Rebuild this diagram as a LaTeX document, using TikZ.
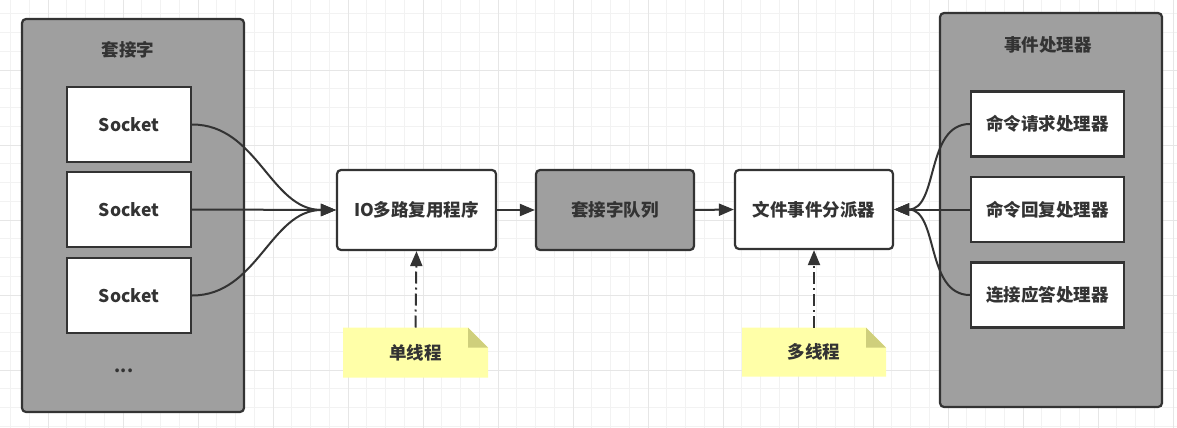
\documentclass[tikz,border=0pt]{standalone}
\usepackage{fontspec}
\setmainfont{Noto Sans CJK SC}
\usetikzlibrary{arrows.meta}
\definecolor{ink}{HTML}{333333}
\definecolor{groupfill}{HTML}{9F9F9F}
\definecolor{minorgrid}{HTML}{F2F2F2}
\definecolor{majorgrid}{HTML}{E6E6E6}
\definecolor{notefill}{HTML}{FFFFA8}
\definecolor{foldfill}{HTML}{CFCF7C}
\tikzset{
  every node/.style={font=\fontsize{17.5}{20}\selectfont\bfseries, text=ink},
  group/.style={draw=ink, line width=2.2pt, fill=groupfill, rounded corners=4pt, inner sep=0pt},
  whitebox/.style={draw=ink, line width=2.2pt, fill=white, inner sep=0pt},
  roundbox/.style={whitebox, rounded corners=4pt},
  graybox/.style={draw=ink, line width=2.2pt, fill=groupfill, rounded corners=4pt, inner sep=0pt},
  arr/.style={draw=ink, line width=2pt, -{Triangle[length=15pt,width=12pt]}},
  dashdot/.style={dash pattern=on 12pt off 4pt on 2pt off 4pt},
  note/.style={inner sep=0pt, minimum width=145pt, minimum height=50pt,
    path picture={
      \fill[notefill] (path picture bounding box.north west)
        -- ([xshift=-20pt]path picture bounding box.north east)
        -- ([yshift=-20pt]path picture bounding box.north east)
        |- (path picture bounding box.south west) -- cycle;
      \fill[foldfill] ([xshift=-20pt]path picture bounding box.north east)
        |- ([yshift=-20pt]path picture bounding box.north east) -- cycle;
    }},
}
\begin{document}
\begin{tikzpicture}[x=1pt,y=-1pt]
\fill[white] (0,0) rectangle (1177,428);
\useasboundingbox (0,0) rectangle (1177,428);
% grid
\foreach \i in {0,...,62} {
  \draw[minorgrid, line width=1pt] ({10.5+18.75*\i},0) -- ({10.5+18.75*\i},428);
}
\foreach \i in {0,...,22} {
  \draw[minorgrid, line width=1pt] (0,{13.75+18.75*\i}) -- (1177,{13.75+18.75*\i});
}
\foreach \i in {0,...,15} {
  \draw[majorgrid, line width=1pt] ({48+75*\i},0) -- ({48+75*\i},428);
}
\foreach \i in {0,...,5} {
  \draw[majorgrid, line width=1pt] (0,{-5+75*\i}) -- (1177,{-5+75*\i});
}
% left group
\node[group, minimum width=222pt, minimum height=393pt] (sockgroup) at (133,215.5) {};
\node (socktitle) at (128,50) {套接字};
\node[whitebox, minimum width=124pt, minimum height=75pt] (s1) at (129,124.5) {Socket};
\node[whitebox, minimum width=124pt, minimum height=75pt] (s2) at (129,209.5) {Socket};
\node[whitebox, minimum width=124pt, minimum height=75pt] (s3) at (129,295.5) {Socket};
\node (dots) at (124,371) {...};
% middle
\node[roundbox, minimum width=159pt, minimum height=80pt] (io) at (416.5,210) {IO多路复用程序};
\node[graybox, minimum width=158pt, minimum height=80pt] (queue) at (615,210) {套接字队列};
\node[roundbox, minimum width=158pt, minimum height=79pt] (disp) at (814,209.5) {文件事件分派器};
\node[note] (single) at (415.5,352.7) {单线程};
\node[note, minimum width=144pt, minimum height=49pt] (multi) at (814,352.2) {多线程};
% right group
\node[group, minimum width=222pt, minimum height=394pt] (handgroup) at (1051,210) {};
\node (handtitle) at (1048,45) {事件处理器};
\node[whitebox, minimum width=153pt, minimum height=65pt] (h1) at (1047.5,124) {命令请求处理器};
\node[whitebox, minimum width=153pt, minimum height=65pt] (h2) at (1047.5,209.5) {命令回复处理器};
\node[whitebox, minimum width=153pt, minimum height=65pt] (h3) at (1047.5,295) {连接应答处理器};
% connectors
\draw[arr] (s1.east) to[out=0,in=180] (io.west);
\draw[arr] (s2.east) -- (io.west);
\draw[arr] (s3.east) to[out=0,in=180] (io.west);
\draw[arr] (io.east) -- (queue.west);
\draw[arr] (queue.east) -- (disp.west);
\draw[arr] (h1.west) to[out=180,in=0] (disp.east);
\draw[arr] (h2.west) -- (disp.east);
\draw[arr] (h3.west) to[out=180,in=0] (disp.east);
\draw[arr, dashdot] (single.north) -- (io.south);
\draw[arr, dashdot] (multi.north) -- (disp.south);
\end{tikzpicture}
\end{document}
